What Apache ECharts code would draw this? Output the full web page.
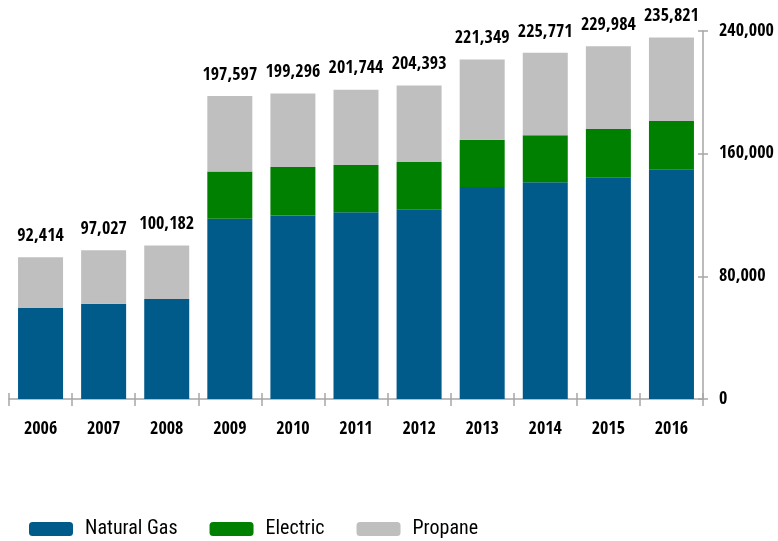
<!DOCTYPE html>
<html>
<head>
<meta charset="utf-8">
<script src="https://cdn.jsdelivr.net/npm/echarts@6/dist/echarts.min.js"></script>
<style>
  html, body { margin: 0; padding: 0; background: #fff; }
  #chart { width: 778px; height: 541px; }
</style>
</head>
<body>
<div id="chart"></div>
<script>
const years = ['2006', '2007', '2008', '2009', '2010', '2011', '2012', '2013', '2014', '2015', '2016']
const totals = [92414, 97027, 100182, 197597, 199296, 201744, 204393, 221349, 225771, 229984, 235821]
const naturalGas = [59400, 62200, 65200, 117600, 119600, 121800, 123700, 138300, 141300, 144600, 149800]
const electric = [0, 0, 0, 30800, 31700, 30800, 30900, 30700, 30700, 31500, 31500]
const yTicks = [0, 80000, 160000, 240000]

// propane is what is left of each total
const propane = totals.map((t, i) => t - naturalGas[i] - electric[i])

const boldFont = '"Open Sans Condensed", "Roboto Condensed", sans-serif'
const legendFont = '"Roboto Condensed", sans-serif'
const axisGray = '#a6a6a6'

const chart = echarts.init(document.getElementById('chart'))

chart.setOption({
  animation: false,
  grid: {
    left: 9,
    right: 75,
    top: 31,
    bottom: 142
  },
  legend: {
    left: 24,
    top: 514,
    itemWidth: 44,
    itemHeight: 14,
    itemGap: 32,
    icon: 'roundRect',
    textStyle: {
      fontFamily: legendFont,
      fontSize: 20,
      color: '#000',
      padding: [0, 0, 0, 7]
    },
    data: ['Natural Gas', 'Electric', 'Propane']
  },
  xAxis: [{
    type: 'category',
    data: years,
    axisLine: { lineStyle: { color: axisGray, width: 1.5 } },
    axisTick: { show: true, length: 7, lineStyle: { color: axisGray, width: 1.5 } },
    axisLabel: {
      fontFamily: boldFont,
      fontWeight: 'bold',
      fontSize: 18,
      color: '#000',
      margin: 21
    }
  }, {
    // inner half of the crossed ticks
    type: 'category',
    data: years,
    position: 'bottom',
    axisLine: { show: false },
    axisTick: { show: true, inside: true, length: 6, lineStyle: { color: axisGray, width: 1.5 } },
    axisLabel: { show: false }
  }],
  yAxis: [{
    type: 'value',
    position: 'right',
    min: 0,
    max: 240000,
    interval: 80000,
    splitLine: { show: false },
    axisLine: { show: true, lineStyle: { color: axisGray, width: 1.5 } },
    axisTick: { show: true, length: 5, lineStyle: { color: axisGray, width: 1.5 } },
    axisLabel: {
      fontFamily: boldFont,
      fontWeight: 'bold',
      fontSize: 18,
      color: '#000',
      margin: 16,
      formatter: v => yTicks.includes(v) ? v.toLocaleString('en-US') : ''
    }
  }, {
    type: 'value',
    position: 'right',
    min: 0,
    max: 240000,
    interval: 80000,
    splitLine: { show: false },
    axisLine: { show: false },
    axisTick: { show: true, inside: true, length: 5, lineStyle: { color: axisGray, width: 1.5 } },
    axisLabel: { show: false }
  }],
  series: [{
    name: 'Natural Gas',
    type: 'bar',
    stack: 'total',
    barWidth: 45,
    data: naturalGas,
    itemStyle: { color: '#005a8a' }
  }, {
    name: 'Electric',
    type: 'bar',
    stack: 'total',
    barWidth: 45,
    data: electric,
    itemStyle: { color: '#008000' }
  }, {
    name: 'Propane',
    type: 'bar',
    stack: 'total',
    barWidth: 45,
    data: propane,
    itemStyle: { color: '#bfbfbf' },
    label: {
      show: true,
      position: 'top',
      distance: 12,
      fontFamily: boldFont,
      fontWeight: 'bold',
      fontSize: 18,
      color: '#000',
      formatter: p => totals[p.dataIndex].toLocaleString('en-US')
    }
  }]
})
</script>
</body>
</html>
